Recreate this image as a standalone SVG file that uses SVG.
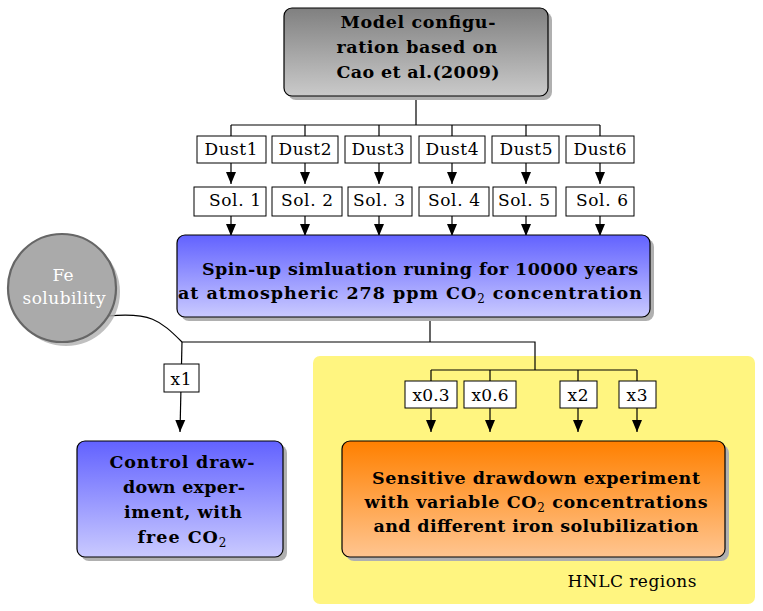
<svg xmlns="http://www.w3.org/2000/svg" width="763" height="611" viewBox="0 0 763 611">
<style>
.b{font-family:"DejaVu Serif","Liberation Serif",serif;font-weight:bold;font-size:17.5px;fill:#000;text-anchor:middle}
.r{font-family:"DejaVu Serif","Liberation Serif",serif;font-size:17px;fill:#000;text-anchor:middle}
.lbl{fill:#fff;stroke:#000;stroke-width:1}
.ln{fill:none;stroke:#000;stroke-width:1.2}
.sh{fill:#b0b0b0}
.bx{stroke:#000;stroke-width:1.2}
</style>
<defs>
<linearGradient id="gGray" x1="0" y1="0" x2="0" y2="1"><stop offset="0" stop-color="#808080"/><stop offset="1" stop-color="#cacaca"/></linearGradient>
<linearGradient id="gBlue" x1="0" y1="0" x2="0" y2="1"><stop offset="0" stop-color="#6262ff"/><stop offset="1" stop-color="#cacaff"/></linearGradient>
<linearGradient id="gOrange" x1="0" y1="0" x2="0" y2="1"><stop offset="0" stop-color="#ff8000"/><stop offset="1" stop-color="#ffc590"/></linearGradient>
<marker id="arr" markerUnits="userSpaceOnUse" markerWidth="12" markerHeight="12" viewBox="0 0 12 10" refX="12" refY="5" orient="auto"><path d="M0,0 L12,5 L0,10 z" fill="#000"/></marker>
</defs>

<g id="hnlc">
<rect x="313" y="356" width="442" height="248" rx="7" fill="#fff580"/>
<text class="r" x="632" y="587" textLength="129">HNLC regions</text>
</g>

<g id="connectors">
<path class="ln" d="M416,96 V125 M231,125 H600 M231,125 V136 M305,125 V136 M379,125 V136 M452,125 V136 M526,125 V136 M600,125 V136"/>
<g marker-end="url(#arr)" class="ln">
<path d="M231,163 V184"/><path d="M305,163 V184"/><path d="M379,163 V184"/><path d="M452,163 V184"/><path d="M526,163 V184"/><path d="M600,163 V184"/>
<path d="M231,216 V236"/><path d="M305,216 V236"/><path d="M379,216 V236"/><path d="M452,216 V236"/><path d="M526,216 V236"/><path d="M600,216 V236"/>
<path d="M431,408 V432"/><path d="M490,408 V432"/><path d="M578,408 V432"/><path d="M637,408 V432"/>
<path d="M182,342 L180,432"/>
</g>
<path class="ln" d="M430,317 V342 M182,342 H535 V370 M431,370 H637 M431,370 V381 M490,370 V381 M578,370 V381 M637,370 V381"/>
<path class="ln" d="M108,316 C150,312 160,320 182,342"/>
</g>

<g id="model">
<rect class="sh" x="288" y="12" width="264" height="88" rx="8"/>
<rect class="bx" x="284" y="8" width="264" height="88" rx="8" fill="url(#gGray)"/>
<text class="b" x="418" y="28" textLength="155">Model configu-</text>
<text class="b" x="417" y="53" textLength="161">ration based on</text>
<text class="b" x="418" y="78" textLength="163">Cao et al.(2009)</text>
</g>

<g id="dust">
<rect class="lbl" x="197" y="136" width="69" height="27"/><text class="r" x="231" y="155" textLength="53">Dust1</text>
<rect class="lbl" x="272" y="136" width="66" height="27"/><text class="r" x="305" y="155" textLength="53">Dust2</text>
<rect class="lbl" x="345" y="136" width="66" height="27"/><text class="r" x="378" y="155" textLength="53">Dust3</text>
<rect class="lbl" x="419" y="136" width="66" height="27"/><text class="r" x="452" y="155" textLength="53">Dust4</text>
<rect class="lbl" x="492" y="136" width="67" height="27"/><text class="r" x="526" y="155" textLength="53">Dust5</text>
<rect class="lbl" x="566" y="136" width="68" height="27"/><text class="r" x="600" y="155" textLength="53">Dust6</text>
</g>

<g id="sol">
<rect class="lbl" x="194" y="187" width="72" height="29"/><text class="r" x="235" y="206" textLength="52">Sol. 1</text>
<rect class="lbl" x="272" y="187" width="70" height="29"/><text class="r" x="307" y="206" textLength="52">Sol. 2</text>
<rect class="lbl" x="348" y="187" width="64" height="29"/><text class="r" x="379" y="206" textLength="52">Sol. 3</text>
<rect class="lbl" x="419" y="187" width="70" height="29"/><text class="r" x="454" y="206" textLength="52">Sol. 4</text>
<rect class="lbl" x="493" y="187" width="63" height="29"/><text class="r" x="524" y="206" textLength="52">Sol. 5</text>
<rect class="lbl" x="566" y="187" width="68" height="29"/><text class="r" x="602" y="206" textLength="52">Sol. 6</text>
</g>

<g id="spinup">
<rect class="sh" x="181" y="239" width="473" height="82" rx="8"/>
<rect class="bx" x="177" y="235" width="473" height="82" rx="8" fill="url(#gBlue)"/>
<text class="b" x="420" y="275" textLength="436">Spin-up simluation runing for 10000 years</text>
<text class="b" x="410" y="299" textLength="464">at atmospheric 278 ppm CO<tspan font-size="12" font-weight="normal" dy="4">2</tspan><tspan dy="-4"> concentration</tspan></text>
</g>

<g id="fe">
<circle cx="66" cy="292" r="54" fill="#b0b0b0" opacity="0.8"/>
<circle cx="62" cy="288" r="54" fill="#aaaaaa" stroke="#666" stroke-width="2.2"/>
<text class="r" x="63" y="281" style="fill:#fff">Fe</text>
<text class="r" x="64" y="304" style="fill:#fff" textLength="83">solubility</text>
</g>

<g id="x1">
<rect class="lbl" x="164" y="364" width="35" height="28"/><text class="r" x="181" y="385" textLength="21">x1</text>
</g>

<g id="control">
<rect class="sh" x="81" y="445" width="206" height="116" rx="8"/>
<rect class="bx" x="77" y="441" width="206" height="116" rx="8" fill="url(#gBlue)"/>
<text class="b" x="182" y="468" textLength="145">Control draw-</text>
<text class="b" x="184" y="493" textLength="122">down exper-</text>
<text class="b" x="183" y="518" textLength="118">iment, with</text>
<text class="b" x="182" y="543" textLength="89">free CO<tspan font-size="12" font-weight="normal" dy="4">2</tspan></text>
</g>

<g id="factors">
<rect class="lbl" x="405" y="381" width="52" height="27"/><text class="r" x="431" y="401" textLength="37">x0.3</text>
<rect class="lbl" x="464" y="381" width="52" height="27"/><text class="r" x="490" y="401" textLength="37">x0.6</text>
<rect class="lbl" x="560" y="381" width="37" height="27"/><text class="r" x="578" y="401" textLength="21">x2</text>
<rect class="lbl" x="619" y="381" width="37" height="27"/><text class="r" x="637" y="401" textLength="21">x3</text>
</g>

<g id="sensitive">
<rect class="sh" x="346" y="445" width="383" height="116" rx="8"/>
<rect class="bx" x="342" y="441" width="383" height="116" rx="8" fill="url(#gOrange)"/>
<text class="b" x="536" y="484" textLength="328">Sensitive drawdown experiment</text>
<text class="b" x="536" y="508" textLength="343">with variable CO<tspan font-size="12" font-weight="normal" dy="4">2</tspan><tspan dy="-4"> concentrations</tspan></text>
<text class="b" x="536" y="532" textLength="325">and different iron solubilization</text>
</g>
</svg>
